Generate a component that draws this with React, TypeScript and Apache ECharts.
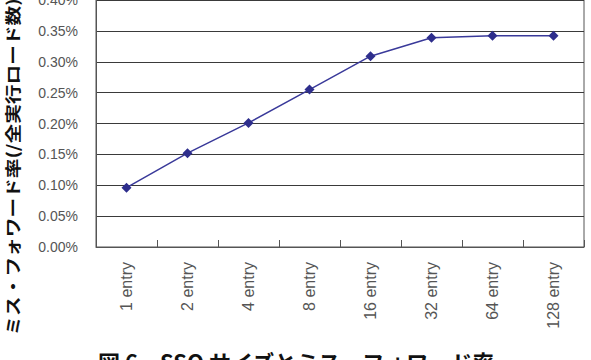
import React, { useEffect, useRef } from "react";
import * as echarts from "echarts";

const categories = ["1 entry", "2 entry", "4 entry", "8 entry", "16 entry", "32 entry", "64 entry", "128 entry"];
const missRate = [0.096, 0.152, 0.201, 0.255, 0.309, 0.339, 0.342, 0.342];
const yTitle = "ミス・フォワード率(/全実行ロード数)";
const caption = "図 6　SSQ サイズとミス・フォワード率";

export default function App() {
  const ref = useRef<HTMLDivElement>(null);
  useEffect(() => {
    if (!ref.current) return;
    const chart = echarts.init(ref.current, undefined, { renderer: "svg" });
    chart.setOption({
      animation: false,
      backgroundColor: "#fff",
      grid: {
        left: 96, right: 7, top: 0, bottom: 113,
        containLabel: false, outerBoundsMode: "none",
        show: true, borderColor: "#555", borderWidth: 1, backgroundColor: "#fff",
      },
      xAxis: {
        type: "category",
        data: categories,
        boundaryGap: true,
        axisLine: { lineStyle: { color: "#555", width: 1 } },
        axisTick: { show: true, inside: true, length: 7, lineStyle: { color: "#555" } },
        axisLabel: {
          rotate: 90, margin: 15, color: "#555", fontSize: 16,
          fontFamily: "Liberation Sans", interval: 0,
        },
      },
      yAxis: {
        type: "value",
        min: 0, max: 0.4, interval: 0.05,
        axisLine: { show: true, lineStyle: { color: "#555" } },
        axisTick: { show: false },
        splitLine: { lineStyle: { color: "#3a3a3a", width: 1.2 } },
        axisLabel: {
          margin: 18, color: "#555", fontSize: 14, fontFamily: "Liberation Sans",
          formatter: (v: number) => v.toFixed(2) + "%",
        },
      },
      series: [
        {
          type: "line",
          data: missRate,
          symbol: "diamond",
          symbolSize: 10,
          lineStyle: { color: "#3a3a9a", width: 1.5 },
          itemStyle: { color: "#2e2e8c" },
        },
      ],
      graphic: [
        {
          type: "text", x: 12, y: 167, rotation: Math.PI / 2, scaleX: 1.23,
          style: {
            text: yTitle, fontSize: 16, fontWeight: "bold", fill: "#111",
            fontFamily: "Noto Sans CJK JP", textAlign: "center", textVerticalAlign: "middle",
          },
        },
        {
          type: "text", x: 98, y: 350,
          style: {
            text: caption, fontSize: 22, fontWeight: "bold", fill: "#111",
            fontFamily: "Noto Sans CJK JP", textAlign: "left", textVerticalAlign: "top",
          },
        },
      ],
    });
    return () => chart.dispose();
  }, []);
  return <div ref={ref} style={{ width: 591, height: 360, position: "absolute", left: 0, top: 0 }} />;
}
